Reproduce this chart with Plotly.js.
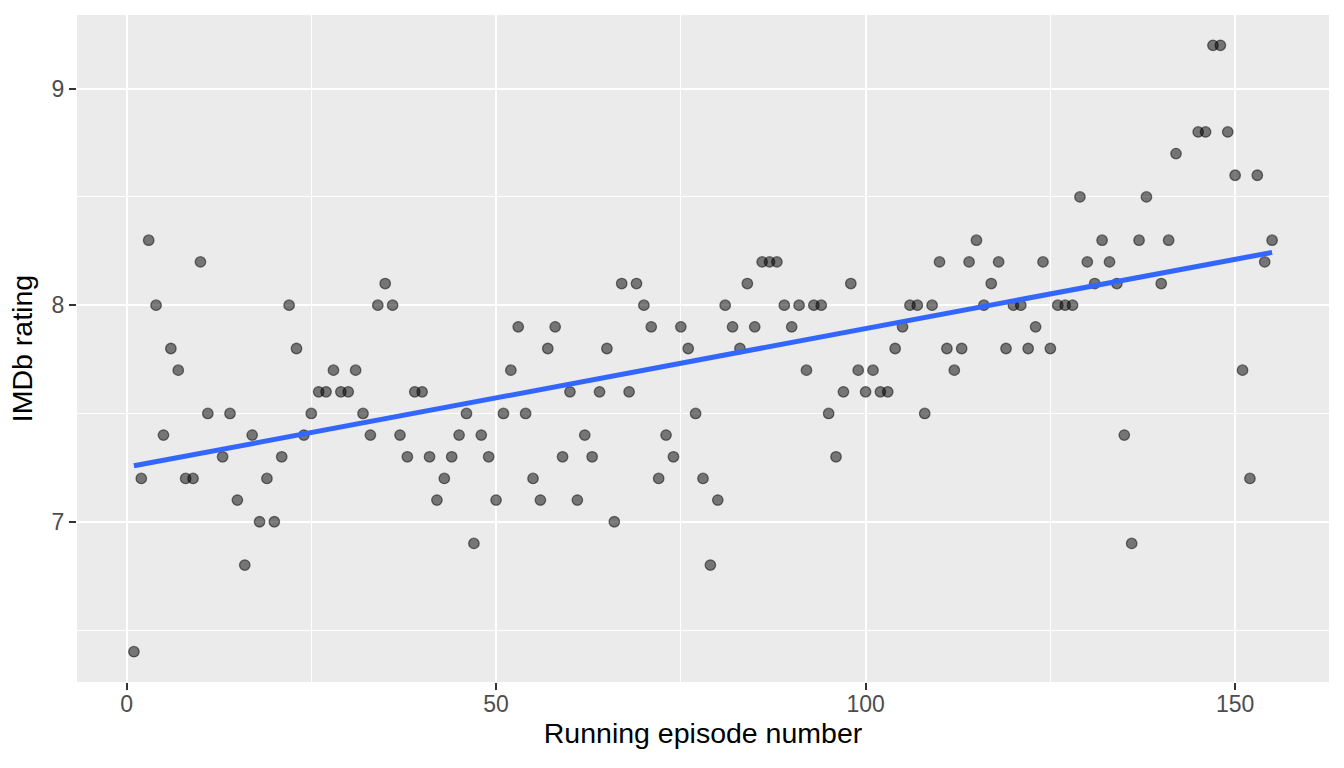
<!DOCTYPE html>
<html>
<head>
<meta charset="utf-8">
<script src="https://cdn.plot.ly/plotly-3.0.1.min.js"></script>
<style>
  body { margin: 0; background: #ffffff; }
  #chart { width: 1344px; height: 768px; }
</style>
</head>
<body>
<div id="chart"></div>
<script>
// running episode number (some episodes have no rating)
var episodes = [
  1, 2, 3, 4, 5, 6, 7, 8, 9, 10, 11, 13, 14, 15, 16, 17, 18, 19, 20,
  21, 22, 23, 24, 25, 26, 27, 28, 29, 30, 31, 32, 33, 34, 35, 36, 37, 38, 39, 40,
  41, 42, 43, 44, 45, 46, 47, 48, 49, 50, 51, 52, 53, 54, 55, 56, 57, 58, 59, 60,
  61, 62, 63, 64, 65, 66, 67, 68, 69, 70, 71, 72, 73, 74, 75, 76, 77, 78, 79, 80,
  81, 82, 83, 84, 85, 86, 87, 88, 89, 90, 91, 92, 93, 94, 95, 96, 97, 98, 99, 100,
  101, 102, 103, 104, 105, 106, 107, 108, 109, 110, 111, 112, 113, 114, 115, 116, 117, 118, 119, 120,
  121, 122, 123, 124, 125, 126, 127, 128, 129, 130, 131, 132, 133, 134, 135, 136, 137, 138, 140,
  141, 142, 145, 146, 147, 148, 149, 150, 151, 152, 153, 154, 155
];

var ratings = [
  6.4, 7.2, 8.3, 8.0, 7.4, 7.8, 7.7, 7.2, 7.2, 8.2, 7.5, 7.3, 7.5, 7.1, 6.8, 7.4, 7.0, 7.2, 7.0,
  7.3, 8.0, 7.8, 7.4, 7.5, 7.6, 7.6, 7.7, 7.6, 7.6, 7.7, 7.5, 7.4, 8.0, 8.1, 8.0, 7.4, 7.3, 7.6, 7.6,
  7.3, 7.1, 7.2, 7.3, 7.4, 7.5, 6.9, 7.4, 7.3, 7.1, 7.5, 7.7, 7.9, 7.5, 7.2, 7.1, 7.8, 7.9, 7.3, 7.6,
  7.1, 7.4, 7.3, 7.6, 7.8, 7.0, 8.1, 7.6, 8.1, 8.0, 7.9, 7.2, 7.4, 7.3, 7.9, 7.8, 7.5, 7.2, 6.8, 7.1,
  8.0, 7.9, 7.8, 8.1, 7.9, 8.2, 8.2, 8.2, 8.0, 7.9, 8.0, 7.7, 8.0, 8.0, 7.5, 7.3, 7.6, 8.1, 7.7, 7.6,
  7.7, 7.6, 7.6, 7.8, 7.9, 8.0, 8.0, 7.5, 8.0, 8.2, 7.8, 7.7, 7.8, 8.2, 8.3, 8.0, 8.1, 8.2, 7.8, 8.0,
  8.0, 7.8, 7.9, 8.2, 7.8, 8.0, 8.0, 8.0, 8.5, 8.2, 8.1, 8.3, 8.2, 8.1, 7.4, 6.9, 8.3, 8.5, 8.1,
  8.3, 8.7, 8.8, 8.8, 9.2, 9.2, 8.8, 8.6, 7.7, 7.2, 8.6, 8.2, 8.3
];

var xTicks = [0, 50, 100, 150];
var yTicks = [7, 8, 9];

// least squares line, like geom_smooth(method = "lm")
function lm(x, y) {
  var n = x.length, mx = 0, my = 0;
  for (var i = 0; i < n; i++) { mx += x[i]; my += y[i]; }
  mx /= n; my /= n;
  var sxy = 0, sxx = 0;
  for (var i = 0; i < n; i++) {
    sxy += (x[i] - mx) * (y[i] - my);
    sxx += (x[i] - mx) * (x[i] - mx);
  }
  var b = sxy / sxx;
  return { a: my - b * mx, b: b };
}

var fit = lm(episodes, ratings);
var xmin = Math.min.apply(null, episodes);
var xmax = Math.max.apply(null, episodes);
var fitX = [xmin, xmax];
var fitY = fitX.map(function (v) { return fit.a + fit.b * v; });

var points = {
  x: episodes,
  y: ratings,
  mode: 'markers',
  type: 'scatter',
  marker: {
    size: 10.5,
    color: 'rgba(0,0,0,0.5)',
    line: { color: 'rgba(0,0,0,0.5)', width: 1.3 }
  },
  hoverinfo: 'x+y'
};

var smooth = {
  x: fitX,
  y: fitY,
  mode: 'lines',
  type: 'scatter',
  line: { color: '#3366FF', width: 5 },
  hoverinfo: 'skip'
};

// 5% padding like ggplot
var ymin = Math.min.apply(null, ratings), ymax = Math.max.apply(null, ratings);
var xpad = (xmax - xmin) * 0.05, ypad = (ymax - ymin) * 0.05;

var font = 'Liberation Sans, Arial, sans-serif';

var layout = {
  width: 1344,
  height: 768,
  showlegend: false,
  paper_bgcolor: '#FFFFFF',
  plot_bgcolor: '#EBEBEB',
  margin: { l: 77, r: 15, t: 15, b: 86 },
  font: { family: font, color: '#000000' },
  xaxis: {
    range: [xmin - xpad, xmax + xpad],
    tickvals: xTicks,
    ticktext: xTicks.map(String),
    ticks: 'outside',
    ticklen: 7,
    tickwidth: 2,
    tickcolor: '#333333',
    ticklabelstandoff: -6,
    tickfont: { family: font, size: 23, color: '#4D4D4D' },
    showgrid: true,
    gridcolor: '#FFFFFF',
    gridwidth: 2,
    minor: { dtick: 25, tick0: 0, showgrid: true, gridcolor: '#FFFFFF', gridwidth: 1, ticks: '' },
    zeroline: false,
    showline: false,
    title: { text: 'Running episode number', font: { family: font, size: 28.5, color: '#000000' }, standoff: 6 }
  },
  yaxis: {
    range: [ymin - ypad, ymax + ypad],
    tickvals: yTicks,
    ticktext: yTicks.map(String),
    ticks: 'outside',
    ticklen: 7,
    tickwidth: 2,
    tickcolor: '#333333',
    tickfont: { family: font, size: 23, color: '#4D4D4D' },
    showgrid: true,
    gridcolor: '#FFFFFF',
    gridwidth: 2,
    minor: { dtick: 0.5, tick0: 0, showgrid: true, gridcolor: '#FFFFFF', gridwidth: 1, ticks: '' },
    zeroline: false,
    showline: false,
    title: { text: 'IMDb rating', font: { family: font, size: 28.5, color: '#000000' }, standoff: 10 }
  }
};

Plotly.newPlot('chart', [points, smooth], layout, { displayModeBar: false, staticPlot: true });
</script>
</body>
</html>
